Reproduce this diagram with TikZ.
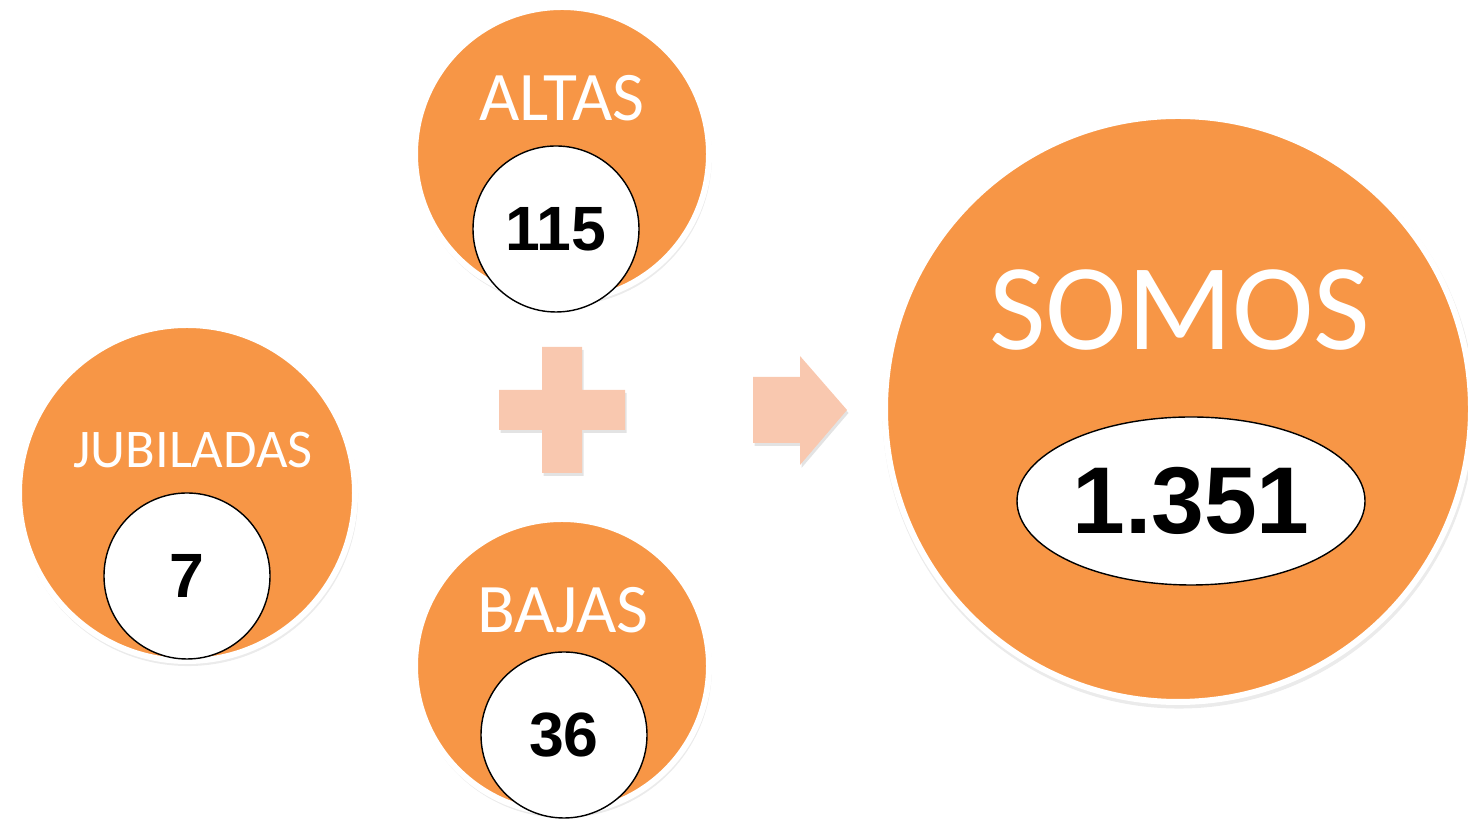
\documentclass[tikz,border=0pt]{standalone}
\usepackage{fontspec}
\setmainfont{Carlito}
\newfontfamily\numfont{Liberation Sans}
\usetikzlibrary{shapes.geometric,shadows}
\definecolor{somosorange}{HTML}{F79646}
\definecolor{somospeach}{HTML}{F9C8AF}
\tikzset{
  bigdisc/.style={circle,inner sep=0pt,fill=somosorange,draw=white,line width=0.12cm,
    drop shadow={opacity=0.16,shadow scale=1.012,shadow xshift=0.02cm,shadow yshift=-0.06cm}},
  numdisc/.style={circle,inner sep=0pt,minimum size=3.32cm,fill=white,draw=black,line width=0.8pt,
    font=\numfont\bfseries\fontsize{35.6}{36}\selectfont},
  disctext/.style={text=white,inner sep=0pt},
  signshape/.style={fill=somospeach,drop shadow={opacity=0.22,shadow xshift=0.03cm,shadow yshift=-0.06cm}}
}
\begin{document}
\begin{tikzpicture}
            \useasboundingbox (0,0) rectangle (29.36,16.38);
            {%

            % Drawing disc ALTAS
            \node [bigdisc,minimum size=5.88cm] (altas) at (11.24,13.30) {};%
            \node [disctext,font=\fontsize{39.6}{40}\selectfont] (altastext) at (11.24,14.42) {ALTAS};%
            \node [numdisc] (altasnum) at (11.12,11.80) {115};%

            % Drawing disc JUBILADAS
            \node [bigdisc,minimum size=6.72cm] (jubiladas) at (3.74,6.52) {};%
            \node [disctext,font=\fontsize{31}{32}\selectfont] (jubiladastext) at (3.86,7.38) {JUBILADAS};%
            \node [numdisc] (jubiladasnum) at (3.74,4.86) {7};%

            % Drawing disc BAJAS
            \node [bigdisc,minimum size=5.88cm] (bajas) at (11.24,3.06) {};%
            \node [disctext,font=\fontsize{39.6}{40}\selectfont] (bajastext) at (11.26,4.18) {BAJAS};%
            \node [numdisc] (bajasnum) at (11.28,1.68) {36};%

            % Drawing disc SOMOS
            \node [bigdisc,minimum size=11.72cm] (somos) at (23.56,8.20) {};%
            \node [disctext,font=\fontsize{70}{72}\selectfont] (somostext) at (23.60,10.18) {SOMOS};%
            \node [ellipse,inner sep=0pt,minimum width=6.96cm,minimum height=3.36cm,fill=white,draw=black,line width=0.8pt,
              font=\numfont\bfseries\fontsize{54}{56}\selectfont] (somosnum) at (23.82,6.36) {1.351};%

            % Drawing plus sign
            \fill [signshape] (10.84,9.44) -- (11.64,9.44) -- (11.64,8.58) -- (12.50,8.58) -- (12.50,7.78)
              -- (11.64,7.78) -- (11.64,6.92) -- (10.84,6.92) -- (10.84,7.78) -- (9.98,7.78)
              -- (9.98,8.58) -- (10.84,8.58) -- cycle;%

            % Drawing arrow
            \fill [signshape] (15.06,8.84) -- (16.00,8.84) -- (16.00,9.26) -- (16.94,8.18)
              -- (16.00,7.08) -- (16.00,7.52) -- (15.06,7.52) -- cycle;%
            }
        \end{tikzpicture}
\end{document}
